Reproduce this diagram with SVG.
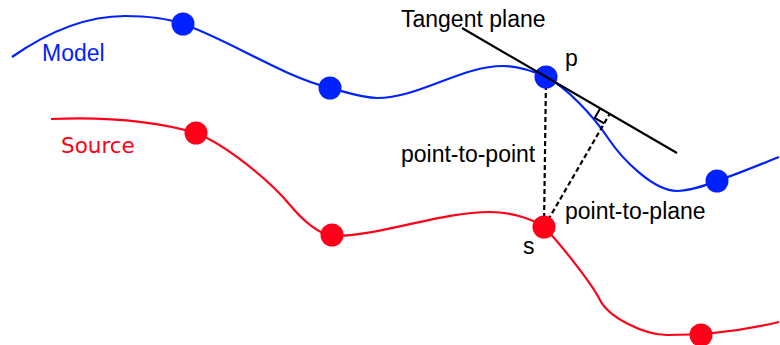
<svg xmlns="http://www.w3.org/2000/svg" width="780" height="345" viewBox="0 0 780 345">
<style>
.lbl{font-family:"Liberation Sans",Arial,sans-serif;font-size:23px;fill:#000}
.model{stroke:#0022ff;fill:none;stroke-width:2.2}
.source{stroke:#ff0018;fill:none;stroke-width:2.2}
.bpt{fill:#0022ff}
.rpt{fill:#ff0018}
.dash{stroke:#000;stroke-width:2.2;stroke-dasharray:5 3;fill:none}
</style>
<rect width="780" height="345" fill="#fff"/>
<g id="connectors">
<path id="model-curve" class="model" d="M12,57 C49.7,30.6 87.3,16 125,16 C144.3,16 163.7,17.2 183,24 C232,41.2 281,75.75 330,88 C345.7,91.9 361.3,98 377,98 C419,98 461,66 503,66 C517.3,66 531.7,70.6 546,77 C566.7,87.3 593,115.5 608,138 C623,160.5 654,191 677,191 C690.3,191 703.7,185.7 717,181 C737.7,173.8 758.3,165.3 779,157"/>
<path id="source-curve" class="source" d="M51,119 C99,117 148,119 196,133 C227,145.4 270,181 290,205 C302,219.5 320,236 334,236 C380,236 440,212 490,212 C508,212 529,217 544,227 C557,240 591,282 600,300 C609,318 645,335 667,335 C705,335 745,330 779,322"/>
<line id="point-to-point" class="dash" x1="546" y1="77" x2="544" y2="227"/>
<line id="point-to-plane" class="dash" x1="544" y1="227" x2="609.7" y2="113.9"/>
</g>
<g id="model-points">
<circle class="bpt" cx="183" cy="24" r="11.5"/>
<circle class="bpt" cx="330" cy="88" r="11.5"/>
<circle class="bpt" cx="717" cy="181" r="11.5"/>
</g>
<g id="p">
<circle class="bpt" cx="546" cy="77" r="11.5"/>
<text class="lbl" x="565" y="66">p</text>
</g>
<g id="source-points">
<circle class="rpt" cx="196" cy="133" r="11.5"/>
<circle class="rpt" cx="332" cy="235" r="11.5"/>
<circle class="rpt" cx="701" cy="335" r="11.5"/>
</g>
<g id="s">
<circle class="rpt" cx="544" cy="227" r="11.5"/>
<text class="lbl" x="523" y="254">s</text>
</g>
<g id="tangent-plane">
<line x1="462" y1="28" x2="677" y2="153" stroke="#000" stroke-width="2.2"/>
<polyline points="600.2,108.4 594.7,117.9 604.2,123.4" fill="none" stroke="#000" stroke-width="2"/>
<text class="lbl" x="401" y="27">Tangent plane</text>
</g>
<g id="labels">
<text x="42" y="61" style="font-family:'Liberation Sans',Arial,sans-serif;font-size:23px" fill="#0022ff">Model</text>
<text x="61" y="153" style="font-family:'DejaVu Sans',Verdana,sans-serif;font-size:21.5px" fill="#ff0018">Source</text>
<text class="lbl" x="401" y="162">point-to-point</text>
<text class="lbl" x="565" y="219">point-to-plane</text>
</g>
</svg>
